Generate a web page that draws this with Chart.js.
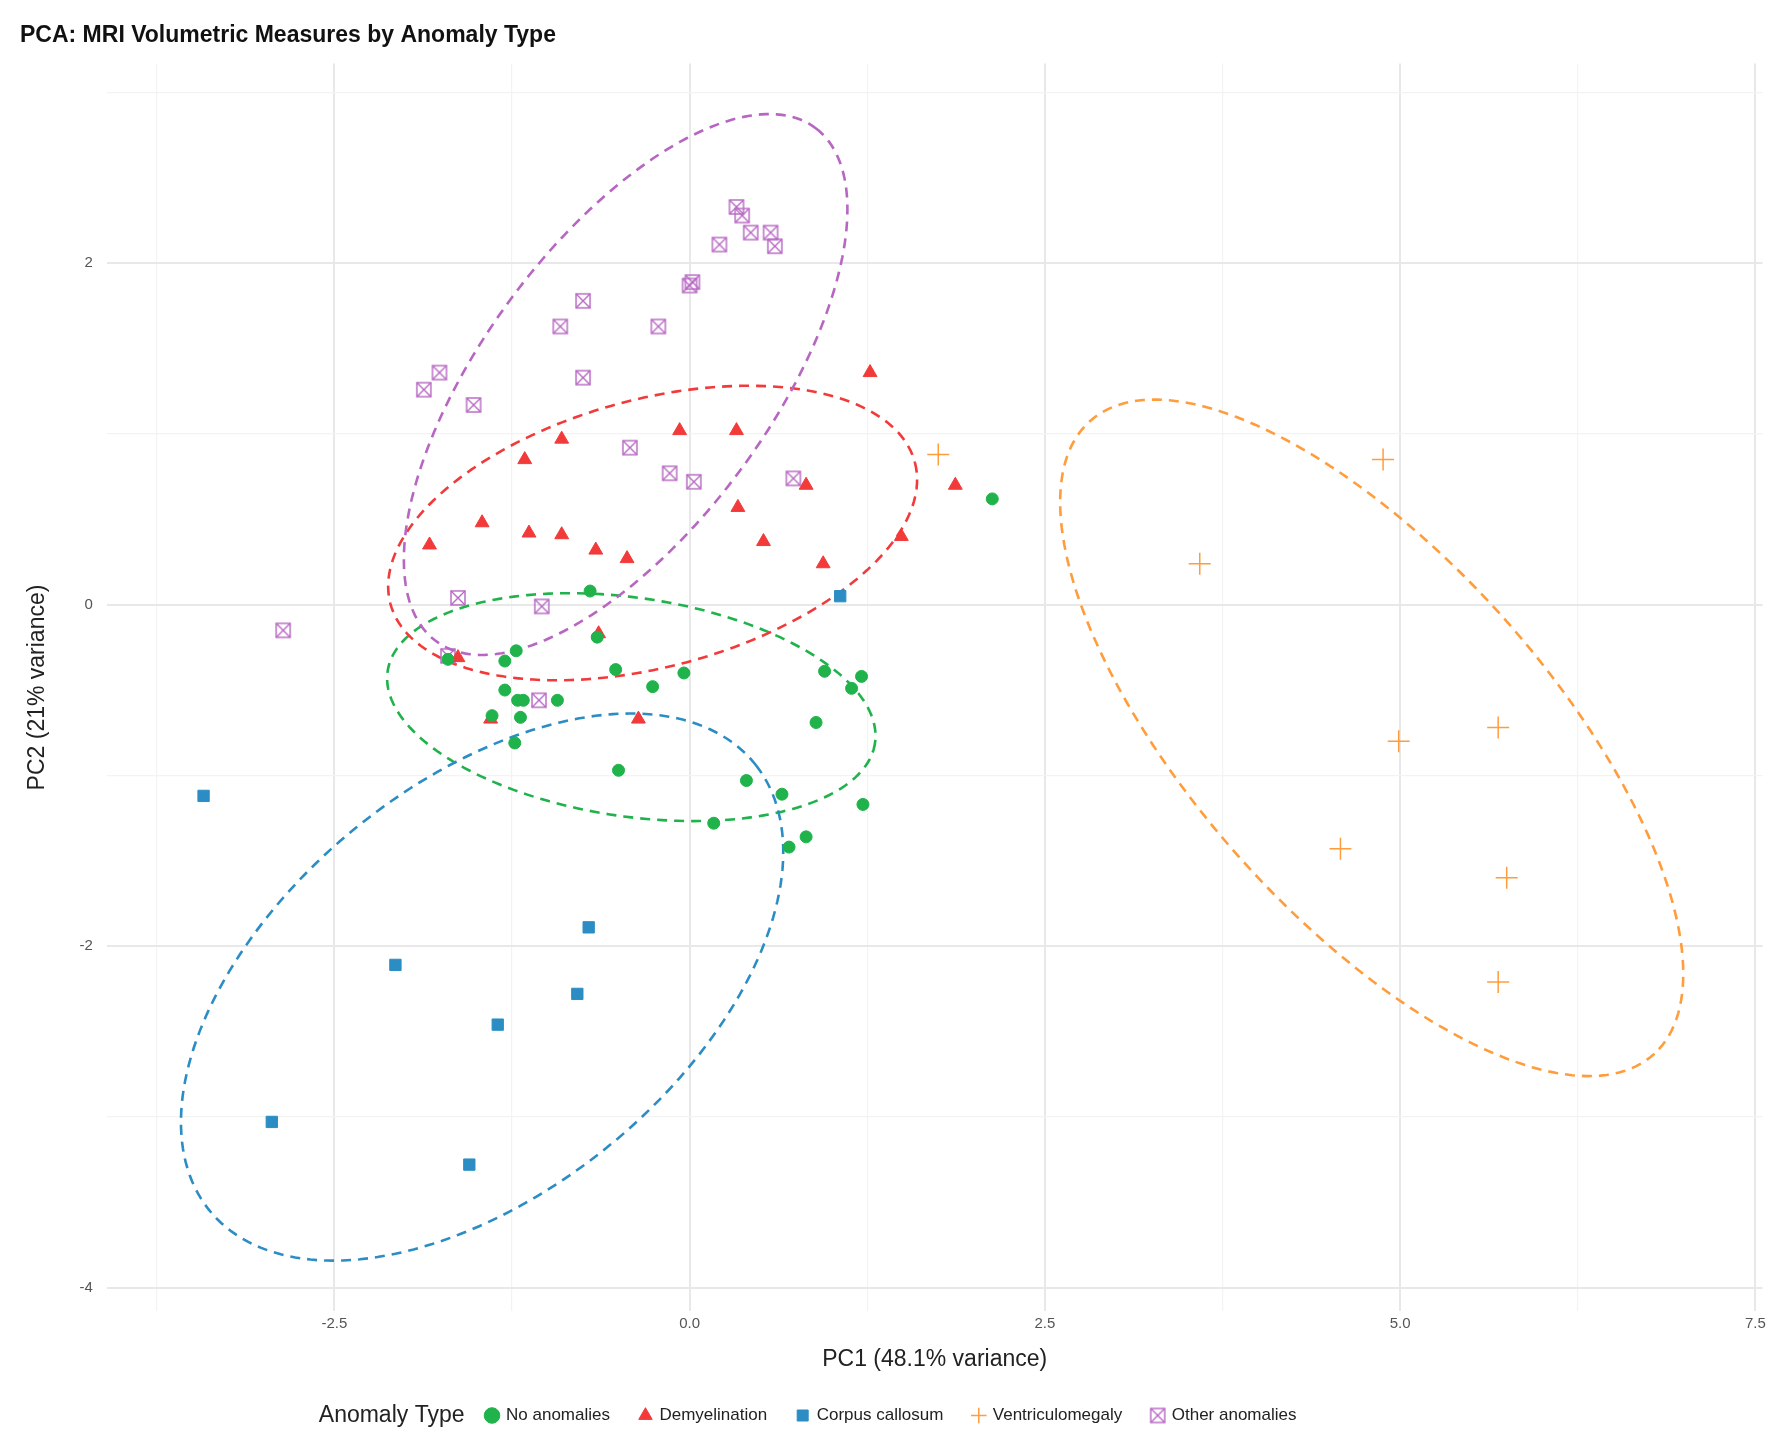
<!DOCTYPE html>
<html>
<head>
<meta charset="utf-8">
<script src="https://cdn.jsdelivr.net/npm/chart.js@4/dist/chart.umd.min.js"></script>
<style>
  html, body { margin: 0; padding: 0; background: #fff; }
  #wrap { width: 1775px; height: 1454px; position: relative; }
</style>
</head>
<body>
<div id="wrap"><canvas id="pca"></canvas></div>
<script>
// series values as [PC1, PC2]
const noAnomalies = [[2.13,0.62],[-0.70,0.08],[-0.65,-0.19],[-1.70,-0.32],[-1.30,-0.33],[-1.22,-0.27],[-1.30,-0.50],[-1.21,-0.56],[-1.17,-0.56],[-0.93,-0.56],[-1.19,-0.66],[-1.39,-0.65],[-1.23,-0.81],[-0.52,-0.38],[-0.26,-0.48],[-0.04,-0.40],[0.95,-0.39],[1.21,-0.42],[1.14,-0.49],[0.89,-0.69],[-0.50,-0.97],[0.40,-1.03],[0.65,-1.11],[1.22,-1.17],[0.17,-1.28],[0.70,-1.42],[0.82,-1.36]];
const demyelination = [[1.27,1.36],[-0.07,1.02],[0.33,1.02],[-0.90,0.97],[-1.16,0.85],[0.82,0.70],[1.87,0.70],[0.34,0.57],[-1.46,0.48],[-1.13,0.42],[-0.90,0.41],[-1.83,0.35],[0.52,0.37],[1.49,0.40],[-0.66,0.32],[-0.44,0.27],[0.94,0.24],[-0.64,-0.17],[-1.63,-0.31],[-1.40,-0.67],[-0.36,-0.67]];
const corpusCallosum = [[1.06,0.05],[-3.42,-1.12],[-0.71,-1.89],[-2.07,-2.11],[-0.79,-2.28],[-1.35,-2.46],[-2.94,-3.03],[-1.55,-3.28]];
const ventriculomegaly = [[1.75,0.88],[4.88,0.85],[3.59,0.24],[4.99,-0.80],[5.69,-0.72],[4.58,-1.43],[5.75,-1.60],[5.69,-2.21]];
const otherAnomalies = [[0.33,2.33],[0.37,2.28],[0.43,2.18],[0.57,2.18],[0.60,2.10],[0.21,2.11],[0.02,1.89],[0.00,1.87],[-0.75,1.78],[-0.91,1.63],[-0.22,1.63],[-0.75,1.33],[-1.76,1.36],[-1.87,1.26],[-1.52,1.17],[-0.42,0.92],[-0.14,0.77],[0.03,0.72],[0.73,0.74],[-1.63,0.04],[-1.04,-0.01],[-1.06,-0.56],[-1.70,-0.30],[-2.86,-0.15]];

const categories = ['No anomalies','Demyelination','Corpus callosum','Ventriculomegaly','Other anomalies'];
const colors = ['#20b24b','#f23a3a','#2b8dc3','#ff9d3c','#b766c2'];

// confidence ellipses: centre, major half-axis vector, minor half-axis vector (data units)
const ellipseCenters = [[-0.41,-0.60],[-0.26,0.42],[-1.46,-2.24],[4.80,-0.78],[-0.45,1.29]];
const ellipseMajor   = [[1.715,-0.209],[1.846,0.412],[1.926,1.301],[1.99,-1.85],[1.34,1.50]];
const ellipseMinor   = [[-0.108,-0.634],[0.236,-0.758],[0.884,-0.936],[-0.92,-0.71],[0.80,-0.51]];

const xTickLabels = [-2.5, 0, 2.5, 5, 7.5];
const yTickLabels = [-4, -2, 2];

// boxed-x marker for "Other anomalies"
const boxX = document.createElement('canvas');
boxX.width = 18; boxX.height = 18;
(() => {
  const c = boxX.getContext('2d');
  c.strokeStyle = colors[4]; c.lineWidth = 1.4;
  c.strokeRect(2, 2, 14, 14);
  c.beginPath(); c.moveTo(2,2); c.lineTo(16,16); c.moveTo(16,2); c.lineTo(2,16); c.stroke();
})();

const toXY = arr => arr.map(p => ({x: p[0], y: p[1]}));

const ellipsePlugin = {
  id: 'ellipses',
  beforeDatasetsDraw(chart) {
    const {ctx, scales: {x, y}} = chart;
    ctx.save();
    ctx.lineWidth = 2.6;
    ctx.setLineDash([10, 7]);
    ellipseCenters.forEach((c, i) => {
      ctx.strokeStyle = colors[i];
      ctx.beginPath();
      for (let k = 0; k <= 200; k++) {
        const t = k / 200 * Math.PI * 2;
        const px = c[0] + Math.cos(t) * ellipseMajor[i][0] + Math.sin(t) * ellipseMinor[i][0];
        const py = c[1] + Math.cos(t) * ellipseMajor[i][1] + Math.sin(t) * ellipseMinor[i][1];
        const X = x.getPixelForValue(px), Y = y.getPixelForValue(py);
        k ? ctx.lineTo(X, Y) : ctx.moveTo(X, Y);
      }
      ctx.stroke();
    });
    ctx.restore();
  },
  afterDraw(chart) {
    const lg = chart.legend;
    if (!lg || !lg.legendHitBoxes || !lg.legendHitBoxes.length) return;
    const b = lg.legendHitBoxes[0];
    const ctx = chart.ctx;
    ctx.save();
    ctx.font = '23px "Liberation Sans", Arial, sans-serif';
    ctx.fillStyle = '#222';
    ctx.textAlign = 'right';
    ctx.textBaseline = 'middle';
    ctx.fillText('Anomaly Type', b.left - 22, b.top + b.height / 2);
    ctx.restore();
  }
};

const isLabel = (v, list) => list.some(t => Math.abs(t - v) < 1e-6);

const styles = ['circle','triangle','rect','cross', boxX];
const radii = [6, 8, 8, 11, 7];
const sets = [noAnomalies, demyelination, corpusCallosum, ventriculomegaly, otherAnomalies];

new Chart(document.getElementById('pca'), {
  type: 'scatter',
  data: {
    datasets: sets.map((s, i) => ({
      label: categories[i],
      data: toXY(s),
      pointStyle: styles[i],
      pointRadius: radii[i],
      backgroundColor: colors[i],
      borderColor: colors[i],
      borderWidth: i === 3 ? 1.5 : 1
    }))
  },
  options: {
    responsive: true,
    maintainAspectRatio: false,
    animation: false,
    layout: { padding: { left: 20, right: 12, top: 10, bottom: 20 } },
    plugins: {
      title: {
        display: true, text: 'PCA: MRI Volumetric Measures by Anomaly Type',
        align: 'start', color: '#111',
        font: { family: '"Liberation Sans", Arial, sans-serif', size: 23, weight: 'bold' },
        padding: { top: 12, bottom: 14 }
      },
      legend: {
        position: 'bottom',
        labels: {
          usePointStyle: true, boxWidth: 11, boxHeight: 11, padding: 30, color: '#222',
          font: { family: '"Liberation Sans", Arial, sans-serif', size: 17 }
        }
      },
      tooltip: { enabled: false }
    },
    scales: {
      x: {
        min: -4.1, max: 7.55,
        border: { display: false },
        afterBuildTicks: ax => { ax.ticks = [-3.75,-2.5,-1.25,0,1.25,2.5,3.75,5,6.25,7.5].map(v => ({value: v})); },
        ticks: { color: '#555', font: { size: 15 }, autoSkip: false, maxRotation: 0,
          callback: v => isLabel(v, xTickLabels) ? String(v.toFixed(1)) : '' },
        grid: {
          color: c => isLabel(c.tick.value, xTickLabels) ? '#e8e8e8' : '#f3f3f3',
          lineWidth: c => isLabel(c.tick.value, xTickLabels) ? 2 : 1.2,
          drawTicks: false
        },
        title: { display: true, text: 'PC1 (48.1% variance)', color: '#222',
          font: { family: '"Liberation Sans", Arial, sans-serif', size: 23 }, padding: { top: 10 } }
      },
      y: {
        min: -4.14, max: 3.17,
        border: { display: false },
        afterBuildTicks: ax => { ax.ticks = [-4,-3,-2,-1,0,1,2,3].map(v => ({value: v})); },
        ticks: { color: '#555', font: { size: 15 }, autoSkip: false, padding: 14,
          callback: v => (v === 0 || isLabel(v, yTickLabels)) ? String(v) : '' },
        grid: {
          color: c => (c.tick.value % 2 === 0) ? '#e8e8e8' : '#f3f3f3',
          lineWidth: c => (c.tick.value % 2 === 0) ? 2 : 1.2,
          drawTicks: false
        },
        title: { display: true, text: 'PC2 (21% variance)', color: '#222',
          font: { family: '"Liberation Sans", Arial, sans-serif', size: 23 }, padding: { bottom: 14 } }
      }
    }
  },
  plugins: [ellipsePlugin]
});
</script>
</body>
</html>
